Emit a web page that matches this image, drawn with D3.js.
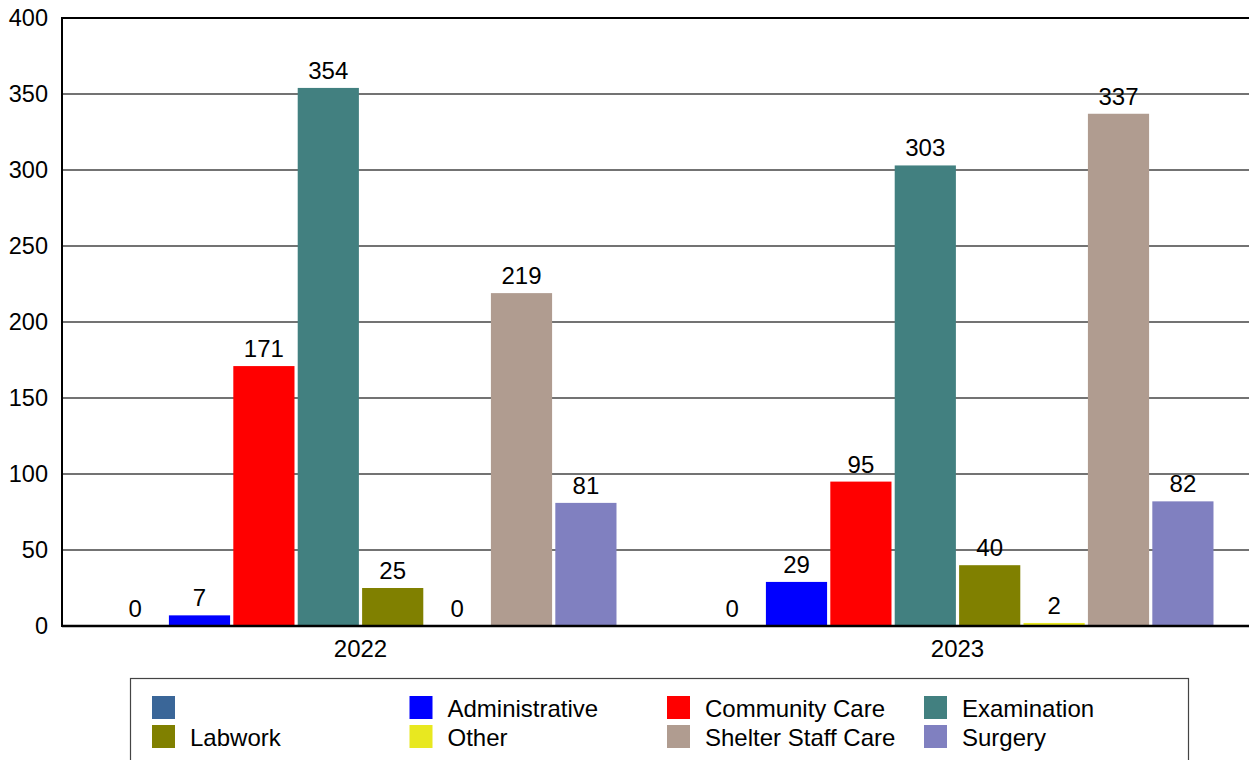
<!DOCTYPE html>
<html><head><meta charset="utf-8">
<script src="https://cdn.jsdelivr.net/npm/d3@7"></script>
<style>body{margin:0;background:#fff;overflow:hidden}svg{display:block;font-family:"Liberation Sans",Arial,sans-serif}</style>
</head><body><svg id="c" width="1249" height="760"></svg>
<script>
const years = ["2022", "2023"];
const seriesNames = ["", "Administrative", "Community Care", "Examination", "Labwork", "Other", "Shelter Staff Care", "Surgery"];
const seriesColors = ["#3a6698", "#0000ff", "#ff0000", "#428080", "#808000", "#e8e820", "#b09c90", "#8080c0"];
const values2022 = [0, 7, 171, 354, 25, 0, 219, 81];
const values2023 = [0, 29, 95, 303, 40, 2, 337, 82];
const yTicks = [0, 50, 100, 150, 200, 250, 300, 350, 400];
const valuesByYear = [values2022, values2023];

const svg = d3.select("#c");
const FONT = "Liberation Sans, Arial, sans-serif";
const L = 62, R = 1256, T = 18, B = 626;
const x0 = d3.scaleBand().domain(years).range([L, R]).paddingInner(0.137).paddingOuter(0.0685);
const x1 = d3.scaleBand().domain(d3.range(seriesNames.length)).range([0, x0.bandwidth()]).paddingInner(0.05).paddingOuter(0.025);
const y = d3.scaleLinear().domain([0, 400]).range([B, T]);

// gridlines
svg.append("g").selectAll("line").data(yTicks.filter(d => d > 0 && d < 400)).join("line")
  .attr("x1", L).attr("x2", 1249).attr("y1", d => y(d)).attr("y2", d => y(d))
  .attr("stroke", "#444").attr("stroke-width", 1.3);

// y axis
const yAxis = svg.append("g").attr("transform", `translate(${L},0)`)
  .call(d3.axisLeft(y).tickValues(yTicks).tickSize(0).tickPadding(14));
yAxis.select(".domain").remove();
yAxis.selectAll("text").attr("font-size", 23.5).attr("fill", "#000").attr("font-family", FONT);

// bars
const groups = svg.append("g").selectAll("g").data(years).join("g")
  .attr("transform", d => `translate(${x0(d)},0)`);
groups.each(function(yr, gi) {
  const g = d3.select(this);
  const vals = valuesByYear[gi];
  g.selectAll("rect").data(vals).join("rect")
    .attr("x", (d, i) => x1(i)).attr("width", x1.bandwidth())
    .attr("y", d => y(d)).attr("height", d => B - y(d))
    .attr("fill", (d, i) => seriesColors[i]);
  g.selectAll("text").data(vals).join("text")
    .attr("x", (d, i) => x1(i) + x1.bandwidth() / 2)
    .attr("y", d => y(d) - 9)
    .attr("text-anchor", "middle").attr("font-size", 24).attr("fill", "#000")
    .text(d => d);
});

// axis frame
svg.append("line").attr("x1", L).attr("x2", 1249).attr("y1", T).attr("y2", T).attr("stroke", "#000").attr("stroke-width", 2);
svg.append("line").attr("x1", L).attr("x2", L).attr("y1", T - 1).attr("y2", B + 1).attr("stroke", "#000").attr("stroke-width", 2);
svg.append("line").attr("x1", L).attr("x2", 1249).attr("y1", B).attr("y2", B).attr("stroke", "#000").attr("stroke-width", 2.5);

// x axis labels
const xAxis = svg.append("g").attr("transform", `translate(0,${B})`)
  .call(d3.axisBottom(x0).tickSize(0).tickPadding(14));
xAxis.select(".domain").remove();
xAxis.selectAll("text").attr("font-size", 24).attr("fill", "#000").attr("font-family", FONT);

// legend
const lg = svg.append("g");
lg.append("rect").attr("x", 130.5).attr("y", 678.5).attr("width", 1058).attr("height", 100)
  .attr("fill", "#fff").attr("stroke", "#444").attr("stroke-width", 1.2);
const colX = [152, 409.5, 667, 924];
const rowY = [696, 725];
const items = lg.selectAll("g").data(seriesNames).join("g")
  .attr("transform", (d, i) => `translate(${colX[i % 4]},${rowY[Math.floor(i / 4)]})`);
items.append("rect").attr("width", 23).attr("height", 23).attr("fill", (d, i) => seriesColors[i]);
items.append("text").attr("x", 38).attr("y", 20.5).attr("font-size", 24).attr("fill", "#000").text(d => d);
</script></body></html>
